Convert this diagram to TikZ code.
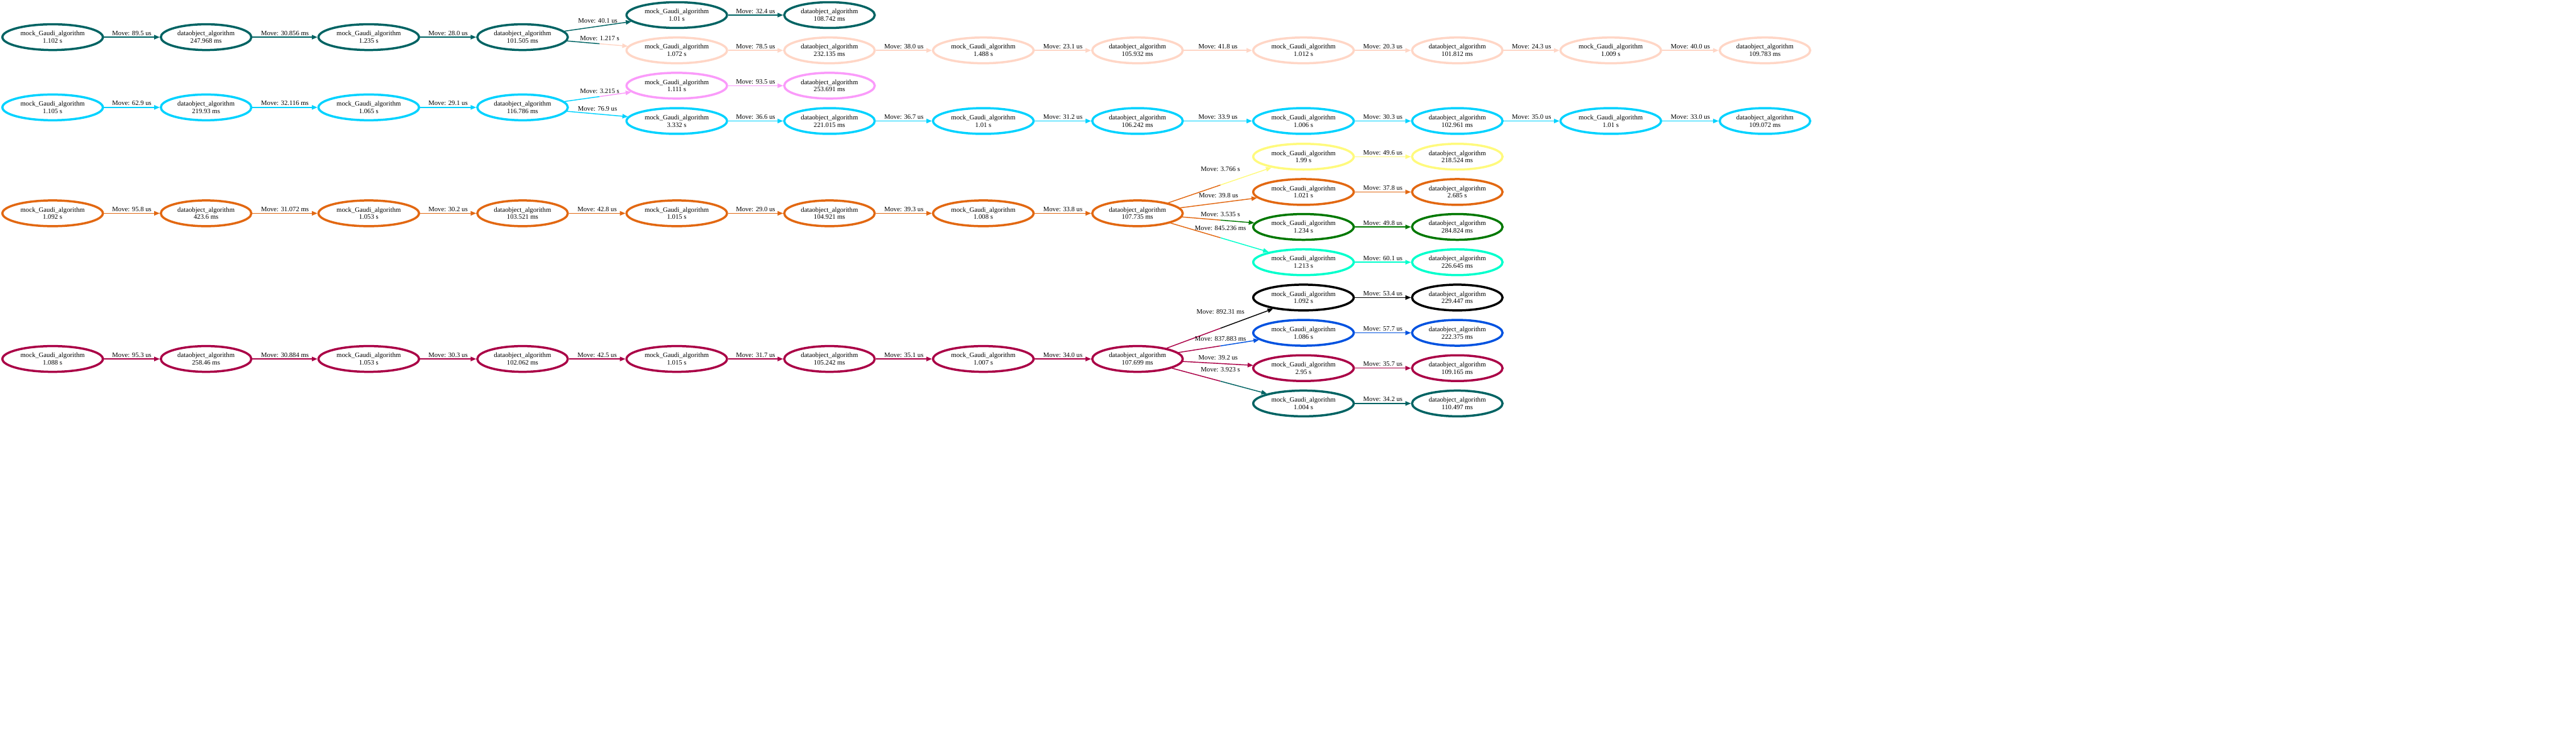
\documentclass[tikz,border=0pt]{standalone}
\usepackage{fontspec}
\setmainfont{Liberation Serif}
\usetikzlibrary{arrows.meta,shapes.geometric,calc}

\definecolor{algteal}{RGB}{0,99,99}
\definecolor{algcyan}{RGB}{0,210,255}
\definecolor{algpeach}{RGB}{255,214,198}
\definecolor{algviolet}{RGB}{250,155,250}
\definecolor{algorange}{RGB}{226,104,18}
\definecolor{algyellow}{RGB}{255,250,125}
\definecolor{alggreen}{RGB}{0,120,0}
\definecolor{algaqua}{RGB}{0,255,204}
\definecolor{algblue}{RGB}{0,82,224}
\definecolor{algcrimson}{RGB}{170,0,70}
\newcommand\algfont{\fontsize{5.2}{5.7}\selectfont}

\begin{document}
\begin{tikzpicture}[x=1cm,y=1cm]
\tikzset{
  mocknode/.style={ellipse,draw,line width=1.7pt,minimum width=2.73cm,minimum height=0.70cm,inner sep=0pt,align=center,font=\algfont},
  datanode/.style={mocknode,minimum width=2.46cm},
  directed/.style={-{Triangle[length=1.5mm,width=1.2mm]},line width=0.7pt},
  undirected/.style={line width=0.7pt},
  movelabel/.style={midway,above,inner sep=1pt,font=\algfont,text=black}
}
\useasboundingbox (0,0) rectangle (70,-20);
% teal chain
\node[mocknode,draw=algteal] (n_t0) at (1.43,-1.01) {mock\_Gaudi\_algorithm\\1.102 s};
\node[datanode,draw=algteal] (n_t1) at (5.60,-1.01) {dataobject\_algorithm\\247.968 ms};
\node[mocknode,draw=algteal] (n_t2) at (10.02,-1.01) {mock\_Gaudi\_algorithm\\1.235 s};
\node[datanode,draw=algteal] (n_t3) at (14.20,-1.01) {dataobject\_algorithm\\101.505 ms};
\node[mocknode,draw=algteal] (n_tt0) at (18.39,-0.41) {mock\_Gaudi\_algorithm\\1.01 s};
\node[datanode,draw=algteal] (n_tt1) at (22.54,-0.41) {dataobject\_algorithm\\108.742 ms};
% peach chain
\node[mocknode,draw=algpeach] (n_p0) at (18.39,-1.37) {mock\_Gaudi\_algorithm\\1.072 s};
\node[datanode,draw=algpeach] (n_p1) at (22.54,-1.37) {dataobject\_algorithm\\232.135 ms};
\node[mocknode,draw=algpeach] (n_p2) at (26.72,-1.37) {mock\_Gaudi\_algorithm\\1.488 s};
\node[datanode,draw=algpeach] (n_p3) at (30.91,-1.37) {dataobject\_algorithm\\105.932 ms};
\node[mocknode,draw=algpeach] (n_p4) at (35.42,-1.37) {mock\_Gaudi\_algorithm\\1.012 s};
\node[datanode,draw=algpeach] (n_p5) at (39.60,-1.37) {dataobject\_algorithm\\101.812 ms};
\node[mocknode,draw=algpeach] (n_p6) at (43.77,-1.37) {mock\_Gaudi\_algorithm\\1.009 s};
\node[datanode,draw=algpeach] (n_p7) at (47.96,-1.37) {dataobject\_algorithm\\109.783 ms};
% violet pair
\node[mocknode,draw=algviolet] (n_v0) at (18.39,-2.33) {mock\_Gaudi\_algorithm\\1.111 s};
\node[datanode,draw=algviolet] (n_v1) at (22.54,-2.33) {dataobject\_algorithm\\253.691 ms};
% cyan chain
\node[mocknode,draw=algcyan] (n_c0) at (1.43,-2.92) {mock\_Gaudi\_algorithm\\1.105 s};
\node[datanode,draw=algcyan] (n_c1) at (5.60,-2.92) {dataobject\_algorithm\\219.93 ms};
\node[mocknode,draw=algcyan] (n_c2) at (10.02,-2.92) {mock\_Gaudi\_algorithm\\1.065 s};
\node[datanode,draw=algcyan] (n_c3) at (14.20,-2.92) {dataobject\_algorithm\\116.786 ms};
\node[mocknode,draw=algcyan] (n_cl0) at (18.39,-3.29) {mock\_Gaudi\_algorithm\\3.332 s};
\node[datanode,draw=algcyan] (n_cl1) at (22.54,-3.29) {dataobject\_algorithm\\221.015 ms};
\node[mocknode,draw=algcyan] (n_cl2) at (26.72,-3.29) {mock\_Gaudi\_algorithm\\1.01 s};
\node[datanode,draw=algcyan] (n_cl3) at (30.91,-3.29) {dataobject\_algorithm\\106.242 ms};
\node[mocknode,draw=algcyan] (n_cl4) at (35.42,-3.29) {mock\_Gaudi\_algorithm\\1.006 s};
\node[datanode,draw=algcyan] (n_cl5) at (39.60,-3.29) {dataobject\_algorithm\\102.961 ms};
\node[mocknode,draw=algcyan] (n_cl6) at (43.77,-3.29) {mock\_Gaudi\_algorithm\\1.01 s};
\node[datanode,draw=algcyan] (n_cl7) at (47.96,-3.29) {dataobject\_algorithm\\109.072 ms};
% orange chain
\node[mocknode,draw=algorange] (n_o0) at (1.43,-5.80) {mock\_Gaudi\_algorithm\\1.092 s};
\node[datanode,draw=algorange] (n_o1) at (5.60,-5.80) {dataobject\_algorithm\\423.6 ms};
\node[mocknode,draw=algorange] (n_o2) at (10.02,-5.80) {mock\_Gaudi\_algorithm\\1.053 s};
\node[datanode,draw=algorange] (n_o3) at (14.20,-5.80) {dataobject\_algorithm\\103.521 ms};
\node[mocknode,draw=algorange] (n_o4) at (18.39,-5.80) {mock\_Gaudi\_algorithm\\1.015 s};
\node[datanode,draw=algorange] (n_o5) at (22.54,-5.80) {dataobject\_algorithm\\104.921 ms};
\node[mocknode,draw=algorange] (n_o6) at (26.72,-5.80) {mock\_Gaudi\_algorithm\\1.008 s};
\node[datanode,draw=algorange] (n_o7) at (30.91,-5.80) {dataobject\_algorithm\\107.735 ms};
\node[mocknode,draw=algyellow] (n_y0) at (35.42,-4.26) {mock\_Gaudi\_algorithm\\1.99 s};
\node[datanode,draw=algyellow] (n_y1) at (39.60,-4.26) {dataobject\_algorithm\\218.524 ms};
\node[mocknode,draw=algorange] (n_ol0) at (35.42,-5.22) {mock\_Gaudi\_algorithm\\1.021 s};
\node[datanode,draw=algorange] (n_ol1) at (39.60,-5.22) {dataobject\_algorithm\\2.685 s};
\node[mocknode,draw=alggreen] (n_g0) at (35.42,-6.17) {mock\_Gaudi\_algorithm\\1.234 s};
\node[datanode,draw=alggreen] (n_g1) at (39.60,-6.17) {dataobject\_algorithm\\284.824 ms};
\node[mocknode,draw=algaqua] (n_a0) at (35.42,-7.13) {mock\_Gaudi\_algorithm\\1.213 s};
\node[datanode,draw=algaqua] (n_a1) at (39.60,-7.13) {dataobject\_algorithm\\226.645 ms};
% crimson chain
\node[mocknode,draw=algcrimson] (n_r0) at (1.43,-9.76) {mock\_Gaudi\_algorithm\\1.088 s};
\node[datanode,draw=algcrimson] (n_r1) at (5.60,-9.76) {dataobject\_algorithm\\258.46 ms};
\node[mocknode,draw=algcrimson] (n_r2) at (10.02,-9.76) {mock\_Gaudi\_algorithm\\1.053 s};
\node[datanode,draw=algcrimson] (n_r3) at (14.20,-9.76) {dataobject\_algorithm\\102.062 ms};
\node[mocknode,draw=algcrimson] (n_r4) at (18.39,-9.76) {mock\_Gaudi\_algorithm\\1.015 s};
\node[datanode,draw=algcrimson] (n_r5) at (22.54,-9.76) {dataobject\_algorithm\\105.242 ms};
\node[mocknode,draw=algcrimson] (n_r6) at (26.72,-9.76) {mock\_Gaudi\_algorithm\\1.007 s};
\node[datanode,draw=algcrimson] (n_r7) at (30.91,-9.76) {dataobject\_algorithm\\107.699 ms};
\node[mocknode,draw=black] (n_k0) at (35.42,-8.09) {mock\_Gaudi\_algorithm\\1.092 s};
\node[datanode,draw=black] (n_k1) at (39.60,-8.09) {dataobject\_algorithm\\229.447 ms};
\node[mocknode,draw=algblue] (n_b0) at (35.42,-9.05) {mock\_Gaudi\_algorithm\\1.086 s};
\node[datanode,draw=algblue] (n_b1) at (39.60,-9.05) {dataobject\_algorithm\\222.375 ms};
\node[mocknode,draw=algcrimson] (n_rl0) at (35.42,-10.01) {mock\_Gaudi\_algorithm\\2.95 s};
\node[datanode,draw=algcrimson] (n_rl1) at (39.60,-10.01) {dataobject\_algorithm\\109.165 ms};
\node[mocknode,draw=algteal] (n_tl0) at (35.42,-10.97) {mock\_Gaudi\_algorithm\\1.004 s};
\node[datanode,draw=algteal] (n_tl1) at (39.60,-10.97) {dataobject\_algorithm\\110.497 ms};
% teal edges
\draw[directed,algteal] (n_t0) -- node[movelabel] (l_t0t1) {Move: 89.5 us} (n_t1);
\draw[directed,algteal] (n_t1) -- node[movelabel] (l_t1t2) {Move: 30.856 ms} (n_t2);
\draw[directed,algteal] (n_t2) -- node[movelabel] (l_t2t3) {Move: 28.0 us} (n_t3);
\draw[directed,algteal] (n_t3) -- node[movelabel,above=0.5mm] (l_t3tt0) {Move: 40.1 us} (n_tt0);
\draw[directed,algteal] (n_tt0) -- node[movelabel] (l_tt0tt1) {Move: 32.4 us} (n_tt1);
\coordinate (m_t3p0) at ($(n_t3)!0.5!(n_p0)$);
\draw[undirected,algteal] (n_t3) -- (m_t3p0);
\draw[directed,algpeach] (m_t3p0) -- node[movelabel,at start,above=0.4mm] (l_t3p0) {Move: 1.217 s} (n_p0);
% peach edges
\draw[directed,algpeach] (n_p0) -- node[movelabel] (l_p0p1) {Move: 78.5 us} (n_p1);
\draw[directed,algpeach] (n_p1) -- node[movelabel] (l_p1p2) {Move: 38.0 us} (n_p2);
\draw[directed,algpeach] (n_p2) -- node[movelabel] (l_p2p3) {Move: 23.1 us} (n_p3);
\draw[directed,algpeach] (n_p3) -- node[movelabel] (l_p3p4) {Move: 41.8 us} (n_p4);
\draw[directed,algpeach] (n_p4) -- node[movelabel] (l_p4p5) {Move: 20.3 us} (n_p5);
\draw[directed,algpeach] (n_p5) -- node[movelabel] (l_p5p6) {Move: 24.3 us} (n_p6);
\draw[directed,algpeach] (n_p6) -- node[movelabel] (l_p6p7) {Move: 40.0 us} (n_p7);
% cyan edges
\draw[directed,algcyan] (n_c0) -- node[movelabel] (l_c0c1) {Move: 62.9 us} (n_c1);
\draw[directed,algcyan] (n_c1) -- node[movelabel] (l_c1c2) {Move: 32.116 ms} (n_c2);
\draw[directed,algcyan] (n_c2) -- node[movelabel] (l_c2c3) {Move: 29.1 us} (n_c3);
\coordinate (m_c3v0) at ($(n_c3)!0.5!(n_v0)$);
\draw[undirected,algcyan] (n_c3) -- (m_c3v0);
\draw[directed,algviolet] (m_c3v0) -- node[movelabel,at start,above=0.4mm] (l_c3v0) {Move: 3.215 s} (n_v0);
\draw[directed,algviolet] (n_v0) -- node[movelabel] (l_v0v1) {Move: 93.5 us} (n_v1);
\draw[directed,algcyan] (n_c3) -- node[movelabel,above=0.4mm] (l_c3cl0) {Move: 76.9 us} (n_cl0);
\draw[directed,algcyan] (n_cl0) -- node[movelabel] (l_cl0cl1) {Move: 36.6 us} (n_cl1);
\draw[directed,algcyan] (n_cl1) -- node[movelabel] (l_cl1cl2) {Move: 36.7 us} (n_cl2);
\draw[directed,algcyan] (n_cl2) -- node[movelabel] (l_cl2cl3) {Move: 31.2 us} (n_cl3);
\draw[directed,algcyan] (n_cl3) -- node[movelabel] (l_cl3cl4) {Move: 33.9 us} (n_cl4);
\draw[directed,algcyan] (n_cl4) -- node[movelabel] (l_cl4cl5) {Move: 30.3 us} (n_cl5);
\draw[directed,algcyan] (n_cl5) -- node[movelabel] (l_cl5cl6) {Move: 35.0 us} (n_cl6);
\draw[directed,algcyan] (n_cl6) -- node[movelabel] (l_cl6cl7) {Move: 33.0 us} (n_cl7);
% orange edges
\draw[directed,algorange] (n_o0) -- node[movelabel] (l_o0o1) {Move: 95.8 us} (n_o1);
\draw[directed,algorange] (n_o1) -- node[movelabel] (l_o1o2) {Move: 31.072 ms} (n_o2);
\draw[directed,algorange] (n_o2) -- node[movelabel] (l_o2o3) {Move: 30.2 us} (n_o3);
\draw[directed,algorange] (n_o3) -- node[movelabel] (l_o3o4) {Move: 42.8 us} (n_o4);
\draw[directed,algorange] (n_o4) -- node[movelabel] (l_o4o5) {Move: 29.0 us} (n_o5);
\draw[directed,algorange] (n_o5) -- node[movelabel] (l_o5o6) {Move: 39.3 us} (n_o6);
\draw[directed,algorange] (n_o6) -- node[movelabel] (l_o6o7) {Move: 33.8 us} (n_o7);
\coordinate (m_o7y0) at ($(n_o7)!0.5!(n_y0)$);
\draw[undirected,algorange] (n_o7) -- (m_o7y0);
\draw[directed,algyellow] (m_o7y0) -- node[movelabel,at start,above=3.2mm] (l_o7y0) {Move: 3.766 s} (n_y0);
\draw[directed,algorange] (n_o7) -- node[movelabel,above=0.9mm] (l_o7ol0) {Move: 39.8 us} (n_ol0);
\coordinate (m_o7g0) at ($(n_o7)!0.5!(n_g0)$);
\draw[undirected,algorange] (n_o7) -- (m_o7g0);
\draw[directed,alggreen] (m_o7g0) -- node[movelabel,at start,above=0.4mm] (l_o7g0) {Move: 3.535 s} (n_g0);
\coordinate (m_o7a0) at ($(n_o7)!0.5!(n_a0)$);
\draw[undirected,algorange] (n_o7) -- (m_o7a0);
\draw[directed,algaqua] (m_o7a0) -- node[movelabel,at start,above=1.6mm] (l_o7a0) {Move: 845.236 ms} (n_a0);
\draw[directed,algyellow] (n_y0) -- node[movelabel] (l_y0y1) {Move: 49.6 us} (n_y1);
\draw[directed,algorange] (n_ol0) -- node[movelabel] (l_ol0ol1) {Move: 37.8 us} (n_ol1);
\draw[directed,alggreen] (n_g0) -- node[movelabel] (l_g0g1) {Move: 49.8 us} (n_g1);
\draw[directed,algaqua] (n_a0) -- node[movelabel] (l_a0a1) {Move: 60.1 us} (n_a1);
% crimson edges
\draw[directed,algcrimson] (n_r0) -- node[movelabel] (l_r0r1) {Move: 95.3 us} (n_r1);
\draw[directed,algcrimson] (n_r1) -- node[movelabel] (l_r1r2) {Move: 30.884 ms} (n_r2);
\draw[directed,algcrimson] (n_r2) -- node[movelabel] (l_r2r3) {Move: 30.3 us} (n_r3);
\draw[directed,algcrimson] (n_r3) -- node[movelabel] (l_r3r4) {Move: 42.5 us} (n_r4);
\draw[directed,algcrimson] (n_r4) -- node[movelabel] (l_r4r5) {Move: 31.7 us} (n_r5);
\draw[directed,algcrimson] (n_r5) -- node[movelabel] (l_r5r6) {Move: 35.1 us} (n_r6);
\draw[directed,algcrimson] (n_r6) -- node[movelabel] (l_r6r7) {Move: 34.0 us} (n_r7);
\coordinate (m_r7k0) at ($(n_r7)!0.5!(n_k0)$);
\draw[undirected,algcrimson] (n_r7) -- (m_r7k0);
\draw[directed,black] (m_r7k0) -- node[movelabel,at start,above=3.4mm] (l_r7k0) {Move: 892.31 ms} (n_k0);
\coordinate (m_r7b0) at ($(n_r7)!0.5!(n_b0)$);
\draw[undirected,algcrimson] (n_r7) -- (m_r7b0);
\draw[directed,algblue] (m_r7b0) -- node[movelabel,at start,above=0.9mm] (l_r7b0) {Move: 837.883 ms} (n_b0);
\draw[directed,algcrimson] (n_r7) -- node[movelabel,above=0.4mm] (l_r7rl0) {Move: 39.2 us} (n_rl0);
\coordinate (m_r7tl0) at ($(n_r7)!0.5!(n_tl0)$);
\draw[undirected,algcrimson] (n_r7) -- (m_r7tl0);
\draw[directed,algteal] (m_r7tl0) -- node[movelabel,at start,above=2mm] (l_r7tl0) {Move: 3.923 s} (n_tl0);
\draw[directed,black] (n_k0) -- node[movelabel] (l_k0k1) {Move: 53.4 us} (n_k1);
\draw[directed,algblue] (n_b0) -- node[movelabel] (l_b0b1) {Move: 57.7 us} (n_b1);
\draw[directed,algcrimson] (n_rl0) -- node[movelabel] (l_rl0rl1) {Move: 35.7 us} (n_rl1);
\draw[directed,algteal] (n_tl0) -- node[movelabel] (l_tl0tl1) {Move: 34.2 us} (n_tl1);
\end{tikzpicture}
\end{document}
